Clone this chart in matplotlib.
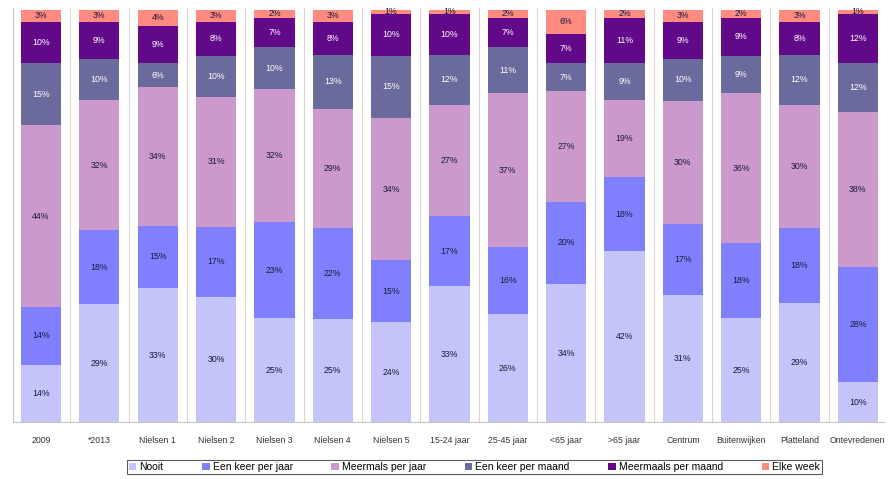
import matplotlib
matplotlib.use("Agg")
import matplotlib.pyplot as plt
import numpy as np

plt.rcParams["font.family"] = ["Liberation Sans", "DejaVu Sans"]

categories = ["2009", "*2013", "Nielsen 1", "Nielsen 2", "Nielsen 3", "Nielsen 4",
              "Nielsen 5", "15-24 jaar", "25-45 jaar", "<65 jaar", ">65 jaar",
              "Centrum", "Buitenwijken", "Platteland", "Ontevredenen"]

series_names = ["Nooit", "Een keer per jaar", "Meermals per jaar",
                "Een keer per maand", "Meermaals per maand", "Elke week"]

nooit = [14, 29, 33, 30, 25, 25, 24, 33, 26, 34, 42, 31, 25, 29, 10]
keer_jaar = [14, 18, 15, 17, 23, 22, 15, 17, 16, 20, 18, 17, 18, 18, 28]
meermals_jaar = [44, 32, 34, 31, 32, 29, 34, 27, 37, 27, 19, 30, 36, 30, 38]
keer_maand = [15, 10, 6, 10, 10, 13, 15, 12, 11, 7, 9, 10, 9, 12, 12]
meermaals_maand = [10, 9, 9, 8, 7, 8, 10, 10, 7, 7, 11, 9, 9, 8, 12]
elke_week = [3, 3, 4, 3, 2, 3, 1, 1, 2, 6, 2, 3, 2, 3, 1]

colors = ["#C4C4FA", "#8080FF", "#CC99CC", "#6A6A9C", "#62098A", "#FF8A80"]
text_colors = ["#1a1a3a", "#1a1a3a", "#1a1a3a", "white", "white", "#1a1a3a"]

values = np.array([nooit, keer_jaar, meermals_jaar, keer_maand,
                   meermaals_maand, elke_week], dtype=float)
shares = values / values.sum(axis=0) * 100  # 100% stacked

fig = plt.figure(figsize=(8.95, 4.79), dpi=100)
ax = fig.add_axes([0.0145, 0.118, 0.974, 0.866])

x = np.arange(len(categories))
bottom = np.zeros(len(categories))
handles = []
for i, name in enumerate(series_names):
    bars = ax.bar(x, shares[i], 0.69, bottom=bottom, color=colors[i],
                  edgecolor="none", label=name, zorder=2)
    handles.append(bars)
    for j in range(len(categories)):
        ax.text(x[j], bottom[j] + shares[i][j] / 2, f"{int(values[i][j])}%",
                ha="center", va="center", fontsize=6.3, color=text_colors[i],
                zorder=3)
    bottom += shares[i]

ax.set_xlim(-0.48, len(categories) - 0.54)
ax.set_ylim(0, 100.5)
ax.set_yticks([])
ax.set_xticks(x)
ax.set_xticklabels(categories, fontsize=6.3, color="#333333")
ax.tick_params(axis="x", length=0, pad=10)

# light separators between categories
ax.set_xticks(x[:-1] + 0.5, minor=True)
ax.tick_params(axis="x", which="minor", length=0)
ax.grid(True, axis="x", which="minor", color="#d8d8d0", linewidth=0.8, zorder=1)

for side in ["top", "right"]:
    ax.spines[side].set_visible(False)
ax.spines["left"].set_color("#c8c8c0")
ax.spines["bottom"].set_color("#c8c8c0")

leg = fig.legend(handles=handles, labels=series_names, loc="lower left",
                 bbox_to_anchor=(127 / 895, 0.01, (822 - 127) / 895, 0.03),
                 mode="expand", ncol=6, fontsize=7.5,
                 frameon=True, fancybox=False, edgecolor="#333333",
                 handlelength=0.7, handleheight=0.7, handletextpad=0.3,
                 columnspacing=1.0, borderpad=0.2, borderaxespad=0.0)
leg.get_frame().set_linewidth(0.8)

fig.savefig("out.png", dpi=100)
